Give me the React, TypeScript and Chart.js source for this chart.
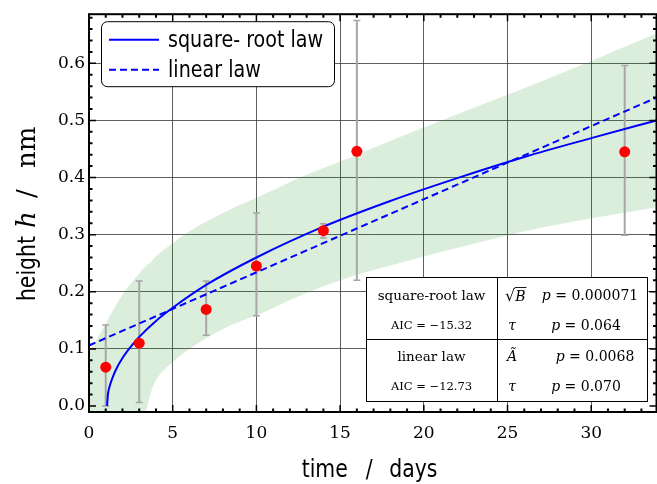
import React, { useEffect, useRef } from 'react';
import { Chart, registerables } from 'chart.js';

Chart.register(...registerables);

// ---- data ----
const DAYS = [1, 3, 7, 10, 14, 16, 32];
const HEIGHTS = [0.068, 0.110, 0.169, 0.245, 0.307, 0.446, 0.445];
const ERR_LOW = [0.000, 0.006, 0.124, 0.158, 0.294, 0.220, 0.299];
const ERR_HIGH = [0.142, 0.219, 0.219, 0.338, 0.319, 0.675, 0.596];

const SQRT_X = [1.08, 1.13, 1.23, 1.4, 1.6, 2, 2.5, 3, 4, 5, 7, 10, 14, 18, 22, 26, 30, 33.9];
const SQRT_Y = [0, 0.020, 0.034, 0.049, 0.063, 0.084, 0.104, 0.121, 0.149, 0.172, 0.212, 0.260, 0.314, 0.359, 0.399, 0.436, 0.469, 0.500];

const LIN_X = [0, 33.9];
const LIN_Y = [0.106, 0.540];

const BAND_X = [0, 1, 2, 3, 3.4, 3.7, 4, 5, 6, 8, 10.5, 12.6, 15.5, 18.5, 21.5, 27, 33.9];
const BAND_UPPER = [0.092, 0.145, 0.195, 0.232, 0.245, 0.252, 0.262, 0.285, 0.306, 0.338, 0.371, 0.400, 0.434, 0.470, 0.505, 0.568, 0.652];
const BAND_LOWER = [-0.08, -0.06, -0.04, -0.02, -0.008, 0.024, 0.045, 0.077, 0.100, 0.135, 0.165, 0.193, 0.225, 0.250, 0.273, 0.312, 0.348];

const X_TICKS = [0, 5, 10, 15, 20, 25, 30];
const Y_TICKS = [0, 0.1, 0.2, 0.3, 0.4, 0.5, 0.6];
const X_MIN = 0;
const X_MAX = 33.9;
const Y_MIN = -0.0105;
const Y_MAX = 0.686;

const SERIES_LABELS = ['square- root law', 'linear law'];
const X_TITLE = ['time', '/', 'days'];
const Y_TITLE = ['height', 'h', '/', 'nm'];

const TABLE_MODELS = ['square-root law', 'linear law'];
const TABLE_AIC = ['AIC = \u221215.32', 'AIC = \u221212.73'];
const TABLE_PARAMS = [['B', '\u03c4'], ['\u00c3', '\u03c4']];
const TABLE_P = [['0.000071', '0.064'], ['0.0068', '0.070']];

const GRID = 'rgba(55,55,55,0.8)';
const SERIF = '"DejaVu Serif"';
const SANS = '"DejaVu Sans"';
const CONDENSE = 0.85;

function sansText(ctx: CanvasRenderingContext2D, text: string, x: number, y: number, size: number, align: 'left' | 'right' | 'center') {
  ctx.save();
  ctx.font = `${size}px ${SANS}`;
  ctx.textAlign = align;
  ctx.translate(x, y);
  ctx.scale(CONDENSE, 1);
  ctx.fillText(text, 0, 0);
  ctx.restore();
}

function pText(ctx: CanvasRenderingContext2D, val: string, cx: number, cy: number, size: number) {
  const fi = `italic ${size}px ${SERIF}`;
  const fr = `${size}px ${SERIF}`;
  ctx.font = fi;
  const w1 = ctx.measureText('p').width;
  ctx.font = fr;
  const rest = ' = ' + val;
  const w2 = ctx.measureText(rest).width;
  const x0 = cx - (w1 + w2) / 2;
  ctx.textAlign = 'left';
  ctx.font = fi;
  ctx.fillText('p', x0, cy);
  ctx.font = fr;
  ctx.fillText(rest, x0 + w1, cy);
}

const decorPlugin = {
  id: 'decor',
  beforeDatasetDraw(chart: any, args: any) {
    if (args.index !== 2) return;
    const { ctx, scales } = chart;
    const x = scales.x, y = scales.y;
    ctx.save();
    ctx.strokeStyle = '#a6a6a6';
    DAYS.forEach((d, i) => {
      const px = x.getPixelForValue(d);
      const y1 = y.getPixelForValue(ERR_LOW[i]);
      const y2 = y.getPixelForValue(ERR_HIGH[i]);
      ctx.lineWidth = 2;
      ctx.beginPath();
      ctx.moveTo(px, y1);
      ctx.lineTo(px, y2);
      ctx.stroke();
      ctx.lineWidth = 1.5;
      ctx.beginPath();
      ctx.moveTo(px - 3.5, y1);
      ctx.lineTo(px + 3.5, y1);
      ctx.moveTo(px - 3.5, y2);
      ctx.lineTo(px + 3.5, y2);
      ctx.stroke();
    });
    ctx.restore();
  },
  afterDraw(chart: any) {
    const { ctx, chartArea: ca, scales } = chart;
    const x = scales.x, y = scales.y;
    ctx.save();
    // spines
    ctx.strokeStyle = '#000';
    ctx.lineWidth = 2;
    ctx.strokeRect(ca.left, ca.top, ca.right - ca.left, ca.bottom - ca.top);
    // ticks (inward, all four sides)
    for (let k = 0; k <= Math.floor(X_MAX); k++) {
      const px = x.getPixelForValue(k);
      const major = k % 5 === 0;
      const len = major ? 7 : 3.5;
      ctx.lineWidth = major ? 1.5 : 2;
      ctx.beginPath();
      ctx.moveTo(px, ca.bottom);
      ctx.lineTo(px, ca.bottom - len);
      ctx.moveTo(px, ca.top);
      ctx.lineTo(px, ca.top + len);
      ctx.stroke();
    }
    for (let k = 0; k <= 34; k++) {
      const py = y.getPixelForValue(k * 0.02);
      const major = k % 5 === 0;
      const len = major ? 7 : 3.5;
      ctx.lineWidth = major ? 1.5 : 2;
      ctx.beginPath();
      ctx.moveTo(ca.left, py);
      ctx.lineTo(ca.left + len, py);
      ctx.moveTo(ca.right, py);
      ctx.lineTo(ca.right - len, py);
      ctx.stroke();
    }

    // x title
    ctx.fillStyle = '#000';
    ctx.textBaseline = 'alphabetic';
    const cx = (ca.left + ca.right) / 2;
    sansText(ctx, X_TITLE[0], cx - 25, 477, 24, 'right');
    sansText(ctx, X_TITLE[1], cx - 3.5, 477, 24, 'center');
    sansText(ctx, X_TITLE[2], cx + 16.5, 477, 24, 'left');

    // y title (rotated)
    ctx.save();
    const cy = (ca.top + ca.bottom) / 2;
    ctx.translate(35, cy + 88);
    ctx.rotate(-Math.PI / 2);
    sansText(ctx, Y_TITLE[0], 0, 0, 24, 'left');
    ctx.textAlign = 'left';
    ctx.font = `italic 26px ${SERIF}`;
    ctx.fillText(Y_TITLE[1], 73, 0);
    ctx.font = `26px ${SERIF}`;
    ctx.fillText(Y_TITLE[2], 103, 0);
    ctx.fillText(Y_TITLE[3], 133, 0);
    ctx.restore();

    // legend
    const lx = ca.left + 12, ly = ca.top + 7, lw = 233, lh = 65;
    ctx.beginPath();
    ctx.roundRect(lx + 0.5, ly + 0.5, lw, lh, 6);
    ctx.fillStyle = '#fff';
    ctx.fill();
    ctx.strokeStyle = '#000';
    ctx.lineWidth = 1;
    ctx.stroke();
    const ds = chart.data.datasets;
    [1, 2].forEach((di, j) => {
      const yy = ly + 18.5 + j * 30;
      ctx.strokeStyle = ds[di].borderColor;
      ctx.lineWidth = 2;
      ctx.setLineDash(ds[di].borderDash || []);
      ctx.beginPath();
      ctx.moveTo(lx + 8, yy);
      ctx.lineTo(lx + 58, yy);
      ctx.stroke();
      ctx.setLineDash([]);
      ctx.fillStyle = '#000';
      ctx.textBaseline = 'alphabetic';
      sansText(ctx, ds[di].label, lx + 67, yy + 7, 22.5, 'left');
    });

    // table
    const tl = 366, tt = 277, tr = 647, tb = 401, tdx = 497, tdy = 339;
    ctx.fillStyle = '#fff';
    ctx.fillRect(tl, tt, tr - tl, tb - tt);
    ctx.strokeStyle = '#000';
    ctx.lineWidth = 1;
    ctx.strokeRect(tl + 0.5, tt + 0.5, tr - tl, tb - tt);
    ctx.beginPath();
    ctx.moveTo(tdx + 0.5, tt);
    ctx.lineTo(tdx + 0.5, tb);
    ctx.moveTo(tl, tdy + 0.5);
    ctx.lineTo(tr, tdy + 0.5);
    ctx.stroke();
    ctx.fillStyle = '#000';
    ctx.textBaseline = 'middle';
    const rows = [[296, 326], [357, 387]];
    const pCenters = [[590, 586], [595, 586]];
    for (let r = 0; r < 2; r++) {
      ctx.textAlign = 'center';
      ctx.font = `13.5px ${SERIF}`;
      ctx.fillText(TABLE_MODELS[r], (tl + tdx) / 2, rows[r][0]);
      ctx.font = `11.5px ${SERIF}`;
      ctx.fillText(TABLE_AIC[r], (tl + tdx) / 2, rows[r][1]);
      for (let k = 0; k < 2; k++) {
        const yy = rows[r][k];
        const par = TABLE_PARAMS[r][k];
        ctx.textAlign = 'center';
        if (r === 0 && k === 0) {
          // sqrt(B)
          ctx.font = `16px ${SERIF}`;
          ctx.textAlign = 'left';
          const rw = ctx.measureText('\u221a').width;
          const sx = 505;
          ctx.fillText('\u221a', sx, yy + 1);
          ctx.font = `italic 14px ${SERIF}`;
          const bw = ctx.measureText(par).width;
          ctx.fillText(par, sx + rw, yy + 1);
          ctx.lineWidth = 0.9;
          ctx.beginPath();
          ctx.moveTo(sx + rw - 0.5, yy - 8.5);
          ctx.lineTo(sx + rw + bw + 1, yy - 8.5);
          ctx.stroke();
        } else {
          ctx.font = `italic 14px ${SERIF}`;
          ctx.fillText(par, 512, yy);
        }
        pText(ctx, TABLE_P[r][k], pCenters[r][k], yy, 14);
      }
    }
    ctx.restore();
  },
};

export default function App() {
  const ref = useRef<HTMLCanvasElement>(null);
  useEffect(() => {
    if (!ref.current) return;
    const chart = new Chart(ref.current, {
      type: 'scatter',
      data: {
        datasets: [
          {
            label: 'data',
            data: DAYS.map((d, i) => ({ x: d, y: HEIGHTS[i] })),
            pointRadius: 5.5,
            pointHoverRadius: 5.5,
            backgroundColor: '#ff0000',
            borderWidth: 0,
            showLine: false,
          },
          {
            label: SERIES_LABELS[0],
            data: SQRT_X.map((v, i) => ({ x: v, y: SQRT_Y[i] })),
            showLine: true,
            borderColor: '#0000ff',
            borderWidth: 2,
            pointRadius: 0,
            cubicInterpolationMode: 'monotone',
            fill: false,
          },
          {
            label: SERIES_LABELS[1],
            data: LIN_X.map((v, i) => ({ x: v, y: LIN_Y[i] })),
            showLine: true,
            borderColor: '#0000ff',
            borderWidth: 2,
            borderDash: [7, 4],
            pointRadius: 0,
            fill: false,
          },
          {
            label: 'band upper',
            data: BAND_X.map((v, i) => ({ x: v, y: BAND_UPPER[i] })),
            showLine: true,
            borderWidth: 0,
            borderColor: 'rgba(0,0,0,0)',
            backgroundColor: 'rgba(30,150,30,0.16)',
            pointRadius: 0,
            cubicInterpolationMode: 'monotone',
            fill: '+1',
          },
          {
            label: 'band lower',
            data: BAND_X.map((v, i) => ({ x: v, y: BAND_LOWER[i] })),
            showLine: true,
            borderWidth: 0,
            borderColor: 'rgba(0,0,0,0)',
            pointRadius: 0,
            cubicInterpolationMode: 'monotone',
            fill: false,
          },
        ],
      },
      options: {
        animation: false,
        responsive: false,
        events: [],
        layout: { padding: { left: 0, top: 13, right: 4, bottom: 0 } },
        plugins: { legend: { display: false }, tooltip: { enabled: false } },
        scales: {
          x: {
            type: 'linear',
            min: X_MIN,
            max: X_MAX,
            afterBuildTicks: (s: any) => { s.ticks = X_TICKS.map((v) => ({ value: v })); },
            afterFit: (s: any) => { s.height = 72; },
            grid: {
              drawTicks: false,
              color: (c: any) => (c.tick && c.tick.value === 0 ? 'rgba(0,0,0,0)' : GRID),
              lineWidth: 1,
            },
            border: { display: false },
            ticks: {
              font: { family: 'DejaVu Serif', size: 17 },
              color: '#000',
              padding: 11,
              maxRotation: 0,
              autoSkip: false,
              callback: (v: any) => String(v),
            },
          },
          y: {
            type: 'linear',
            min: Y_MIN,
            max: Y_MAX,
            afterBuildTicks: (s: any) => { s.ticks = Y_TICKS.map((v) => ({ value: v })); },
            afterFit: (s: any) => { s.width = 89; },
            grid: {
              drawTicks: false,
              color: (c: any) => (c.tick && c.tick.value === 0 ? 'rgba(0,0,0,0)' : GRID),
              lineWidth: 1,
            },
            border: { display: false },
            ticks: {
              font: { family: 'DejaVu Serif', size: 17 },
              color: '#000',
              padding: 4,
              autoSkip: false,
              callback: (v: any) => Number(v).toFixed(1),
            },
          },
        },
      },
      plugins: [decorPlugin],
    } as any);
    return () => chart.destroy();
  }, []);
  return (
    <div style={{ position: 'fixed', left: 0, top: 0, width: 657, height: 484, overflow: 'hidden', background: '#fff' }}>
      <canvas ref={ref} width={662} height={484} style={{ display: 'block' }} />
    </div>
  );
}
